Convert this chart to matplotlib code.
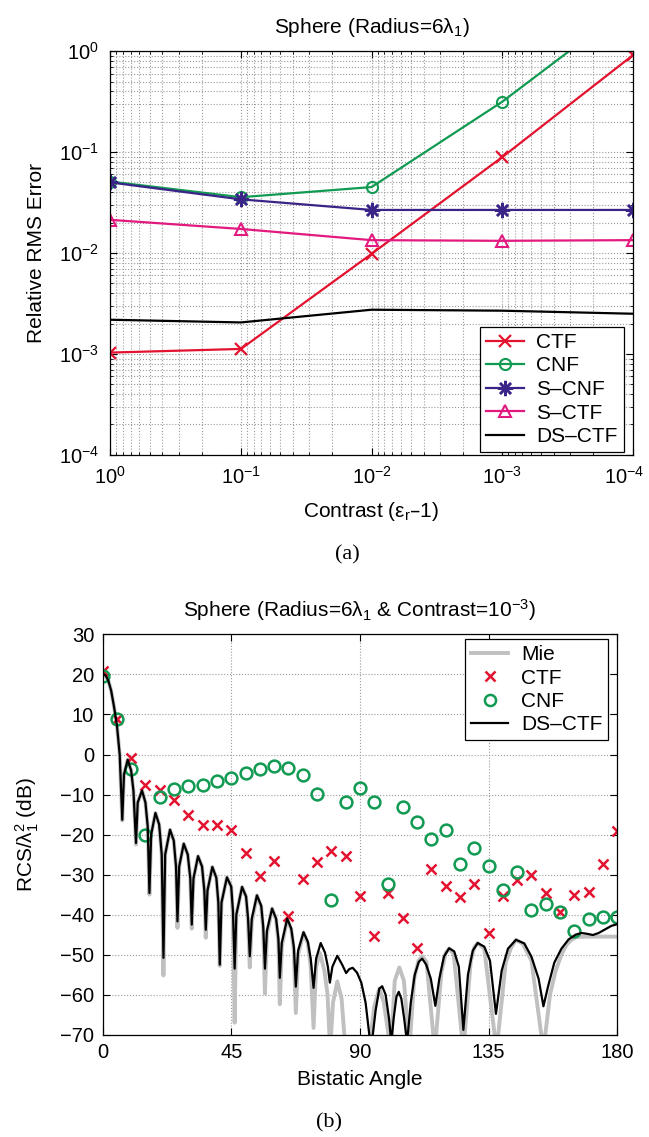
import matplotlib
matplotlib.use("Agg")
import matplotlib.pyplot as plt
import matplotlib.transforms as mtransforms
from matplotlib.lines import Line2D

plt.rcParams['font.family'] = ['Liberation Sans', 'DejaVu Sans']
plt.rcParams['font.size'] = 15
plt.rcParams['axes.linewidth'] = 0.9

# ---- (a) relative RMS error vs contrast ----
contrast = [1, 1e-1, 1e-2, 1e-3, 1e-4]
err_ctf = [0.00103, 0.00112, 0.0098, 0.089, 0.91]
err_cnf = [0.051, 0.0357, 0.045, 0.315, 3.0]
err_scnf = [0.050, 0.034, 0.0267, 0.0267, 0.0267]
err_sctf = [0.0213, 0.0173, 0.0134, 0.0132, 0.0134]
err_dsctf = [0.00218, 0.00205, 0.00274, 0.00268, 0.00250]

# ---- (b) bistatic RCS ----
angle_pts = [0, 5, 10, 15, 20, 25, 30, 35, 40, 45, 50, 55, 60, 65, 70, 75, 80, 85, 90,
             95, 100, 105, 110, 115, 120, 125, 130, 135, 140, 145, 150, 155, 160, 165,
             170, 175, 180]
rcs_cnf = [19.6, 8.9, -3.5, -20.0, -10.7, -8.5, -7.9, -7.5, -6.7, -5.8, -4.6, -3.6, -2.9,
           -3.3, -5.2, -9.8, -36.3, -11.8, -8.4, -11.8, -32.3, -13.2, -16.8, -21.1, -18.8,
           -27.3, -23.4, -27.9, -33.9, -29.3, -38.8, -37.3, -39.4, -44.2, -41.0, -40.6, -40.7]
rcs_ctf = [20.8, 8.75, -0.8, -7.5, -8.75, -11.4, -15.1, -17.7, -17.6, -18.75, -24.6, -30.4,
           -26.7, -40.4, -31.0, -26.9, -24.2, -25.25, -35.25, -45.25, -34.6, -40.75, -48.4,
           -28.5, -32.9, -35.6, -32.25, -44.6, -35.25, -31.4, -30.0, -34.6, -39.4, -35.0,
           -34.4, -27.25, -19.2]

ds_angle = [0, 1, 2, 3, 4, 5, 6, 6.9, 7.5, 8.8, 10, 10.8, 11.7, 12.3, 13.8, 15.0, 15.8, 16.4,
            17.0, 18.5, 19.8, 20.7, 21.3, 21.9, 23.6, 24.9, 25.7, 26.2, 26.8, 28.4, 29.8,
            30.7, 31.2, 31.8, 33.4, 34.8, 35.6, 36.1, 36.7, 38.4, 39.8, 40.5, 41.0, 41.6,
            43.5, 45.0, 45.6, 46.2, 46.8, 48.8, 50.2, 50.9, 51.5, 52.2, 54.0, 55.5, 56.2,
            56.8, 57.5, 59.3, 60.7, 61.5, 62.0, 62.7, 64.6, 66.0, 66.9, 67.6, 68.4, 70.3,
            71.8, 72.8, 73.8, 74.7, 76.3, 77.8, 78.8, 79.5, 80.4, 82.1, 83.8, 85.2, 86.3,
            87.5, 89.0, 90.5, 92.0, 93.3, 94.2, 95.5, 96.8, 97.8, 99.0, 100.2, 101.0, 101.8,
            102.8, 103.6, 104.5, 105.5, 106.5, 107.8, 109.2, 110.6, 111.8, 113.2, 114.8,
            116.4, 117.8, 119.4, 121.2, 123.0, 124.6, 126.2, 127.8, 129.5, 131.2, 133.5,
            135.5, 137.6, 139.6, 141.8, 144.6, 147.5, 150.0, 152.5, 154.2, 155.8, 158.0,
            160.5, 163.0, 165.5, 167.5, 169.5, 171.5, 173.5, 176.0, 178.0, 180.0]
ds_db = [20.2, 19.8, 18.5, 16.0, 12.0, 7.5, 0, -16.3, -5, -1.3, -4, -9, -22.1, -12, -9.0, -12,
         -18, -34.6, -20, -14.6, -17.5, -25, -50.8, -25, -18.8, -21.5, -28, -41.7, -28, -22.3,
         -25, -31, -42.5, -31, -25.4, -28, -34, -43.8, -34, -28.1, -30.8, -37, -52.5, -37,
         -30.7, -33, -39, -53.5, -40, -33.1, -35.5, -41, -50.4, -41, -35.2, -37.8, -43, -53.5,
         -44, -38.5, -41, -46, -55.8, -47, -41, -43.5, -48, -58, -49, -44.4, -46.8, -51, -58.3,
         -51, -47.1, -49.5, -53, -57, -53, -50.3, -52.5, -54.6, -53.6, -53.3, -54.5, -57, -62,
         -70, -72, -64, -58.5, -57.9, -60, -66, -72, -66, -60.5, -59.3, -61, -66, -72, -62,
         -55, -51.8, -51.0, -52.5, -56, -62.8, -56, -50.5, -48.4, -49.2, -53, -68.8, -55, -49,
         -47.1, -48, -51.5, -64.8, -54, -48.5, -46.3, -47.2, -50.5, -56, -62.9, -58, -52,
         -48.5, -46.2, -45, -44.6, -44.8, -45.1, -44.6, -43.6, -42.8, -42.4]

mie_angle = [0, 1, 2, 3, 4, 5, 6, 6.9, 7.5, 8.8, 10, 10.8, 11.7, 12.3, 13.8, 15.0, 15.8, 16.4,
             17.0, 18.5, 19.8, 20.7, 21.3, 21.9, 23.6, 24.9, 25.7, 26.2, 26.8, 28.4, 29.8,
             30.7, 31.2, 31.8, 33.4, 34.8, 35.6, 36.1, 36.7, 38.4, 39.8, 40.5, 41.0, 41.6,
             43.5, 45.0, 45.6, 46.2, 46.8, 48.8, 50.2, 50.9, 51.5, 52.2, 54.0, 55.5, 56.2,
             56.8, 57.5, 59.3, 60.7, 61.5, 62.0, 62.7, 64.6, 66.0, 66.9, 67.6, 68.4, 70.3,
             71.8, 72.8, 73.8, 74.7, 76.0, 77.6, 78.7, 79.6, 80.6, 82.1, 83.6, 85.0, 89.0,
             93.2, 95.0, 96.8, 98.4, 100.8, 102.2, 103.8, 105.4, 107.3, 109.0, 110.5, 111.8,
             113.3, 116.2, 118.5, 120.0, 121.2, 122.8, 126.2, 128.8, 130.0, 131.2, 133.5,
             137.8, 141.0, 142.8, 144.6, 147.0, 150.0, 154.2, 156.5, 158.5, 160.5, 162.3,
             164.0, 165.7, 170.0, 175.0, 180.0]
mie_db = [20.2, 19.8, 18.5, 16.0, 12.0, 7.5, 0, -16.5, -5, -1.3, -4, -9, -22.5, -12, -9.0,
          -12, -18, -35, -20, -14.6, -17.5, -25, -55.2, -25, -18.8, -21.5, -28, -43.3, -28,
          -22.3, -25, -31, -43.5, -31, -25.4, -28, -34, -45.8, -34, -28.1, -30.8, -37, -52.8,
          -37, -30.7, -33, -40, -67, -40, -33.1, -35.5, -42, -53.2, -42, -35.2, -38, -44,
          -59.7, -45, -38.5, -41.2, -47, -62.4, -48, -41, -43.7, -49, -64.6, -50, -44.5,
          -47.2, -53, -68.3, -53, -49.6, -54, -60, -74, -62, -56.7, -61, -74, -74, -74, -63,
          -58.5, -62, -74, -56.5, -53.2, -56.5, -74, -56, -51.5, -50.4, -51.8, -74, -54.5,
          -49.6, -48.5, -49.8, -74, -51.5, -48.2, -47.1, -48.5, -74, -52, -48.4, -46.3,
          -47.3, -51.5, -74, -60, -54, -50, -47.5, -46.3, -45.6, -45.5, -45.5, -45.5]

red = '#e3122f'
green = '#119a52'
indigo = '#3a2488'
magenta = '#e2197f'
grid_kw = dict(linestyle=':', color='#9a9a9a', linewidth=0.8)
asterisk = (8, 2, 0)

fig = plt.figure(figsize=(6.49, 11.37), dpi=100)

# ---------- (a) ----------
ax1 = fig.add_axes([0.170, 0.600, 0.805, 0.355])
ax1.set_xscale('log')
ax1.set_yscale('log')
ax1.plot(contrast, err_ctf, color=red, marker='x', ms=8, mew=1.6, lw=1.6, label='CTF')
ax1.plot(contrast, err_cnf, color=green, marker='o', ms=8, mfc='none', mew=1.5, lw=1.6, label='CNF')
ax1.plot(contrast, err_scnf, color=indigo, marker=asterisk, ms=11, mew=1.8, lw=1.6, label='S–CNF')
ax1.plot(contrast, err_sctf, color=magenta, marker='^', ms=8, mfc='none', mew=1.5, lw=1.6, label='S–CTF')
ax1.plot(contrast, err_dsctf, color='black', lw=1.6, label='DS–CTF')
ax1.set_xlim(1, 1e-4)
ax1.set_ylim(1e-4, 1)
ax1.set_xticks(contrast)
ax1.grid(True, which='both', **grid_kw)
ax1.tick_params(which='both', direction='in', top=True, right=True)
ax1.tick_params(which='major', length=5, pad=8, labelsize=14.5)
ax1.tick_params(which='minor', length=2.5)
ax1.set_title('Sphere (Radius=6$\\mathregular{λ_1}$)', fontsize=15, pad=13)
ax1.set_xlabel('Contrast ($\\mathregular{ε_r}$–1)', fontsize=15, labelpad=9)
ax1.set_ylabel('Relative RMS Error', fontsize=15, labelpad=9)
leg1 = ax1.legend(loc='lower right', bbox_to_anchor=(0.983, 0.006), borderaxespad=0,
                  fancybox=False, edgecolor='black', framealpha=1, fontsize=15,
                  handlelength=1.8, handletextpad=0.6, labelspacing=0.22, borderpad=0.3)
leg1.get_frame().set_linewidth(0.9)

# the 10^-4 label sits on the right edge of the figure; nudge it inward a little
last = ax1.xaxis.get_major_ticks()[len(contrast) - 1].label1
last.set_transform(last.get_transform() + mtransforms.ScaledTranslation(-9 / 100, 0, fig.dpi_scale_trans))

# ---------- (b) ----------
ax2 = fig.add_axes([0.158, 0.090, 0.793, 0.352])
ax2.plot(mie_angle, mie_db, color='#c0c0c0', lw=2.8, label='Mie')
ax2.plot(angle_pts, rcs_ctf, linestyle='none', color=red, marker='x', ms=7, mew=1.8, label='CTF')
ax2.plot(angle_pts, rcs_cnf, linestyle='none', color=green, marker='o', ms=8.5, mfc='none',
         mew=1.8, label='CNF')
ax2.plot(ds_angle, ds_db, color='black', lw=1.6, label='DS–CTF')
ax2.set_xlim(0, 180)
ax2.set_ylim(-70, 30)
ax2.set_xticks([0, 45, 90, 135, 180])
ax2.set_yticks(range(-70, 31, 10))
ax2.grid(True, **grid_kw)
ax2.tick_params(direction='in', top=True, right=True, length=5, pad=6, labelsize=14.5)
ax2.set_title('Sphere (Radius=6$\\mathregular{λ_1}$ & Contrast=10$\\mathregular{^{-3}}$)',
              fontsize=15, pad=13)
ax2.set_xlabel('Bistatic Angle', fontsize=15, labelpad=6)
ax2.set_ylabel('RCS/$\\mathregular{λ_1^2}$ (dB)', fontsize=15, labelpad=14)
handles = [Line2D([], [], color='#c0c0c0', lw=2.8),
           Line2D([], [], linestyle='none', color=red, marker='x', ms=7, mew=1.8),
           Line2D([], [], linestyle='none', color=green, marker='o', ms=8, mfc='none', mew=1.8),
           Line2D([], [], color='black', lw=1.6)]
leg2 = ax2.legend(handles, ['Mie', 'CTF', 'CNF', 'DS–CTF'], loc='upper right',
                  bbox_to_anchor=(0.983, 0.988), borderaxespad=0, fancybox=False,
                  edgecolor='black', framealpha=1, fontsize=15, handlelength=1.8,
                  handletextpad=0.6, labelspacing=0.2, borderpad=0.3)
leg2.get_frame().set_linewidth(0.9)

fig.text(347 / 649, 1 - 555 / 1137, '(a)', family='Liberation Serif', fontsize=16,
         ha='center', va='center')
fig.text(329 / 649, 1 - 1123 / 1137, '(b)', family='Liberation Serif', fontsize=16,
         ha='center', va='center')

fig.savefig('out.png', dpi=100)
